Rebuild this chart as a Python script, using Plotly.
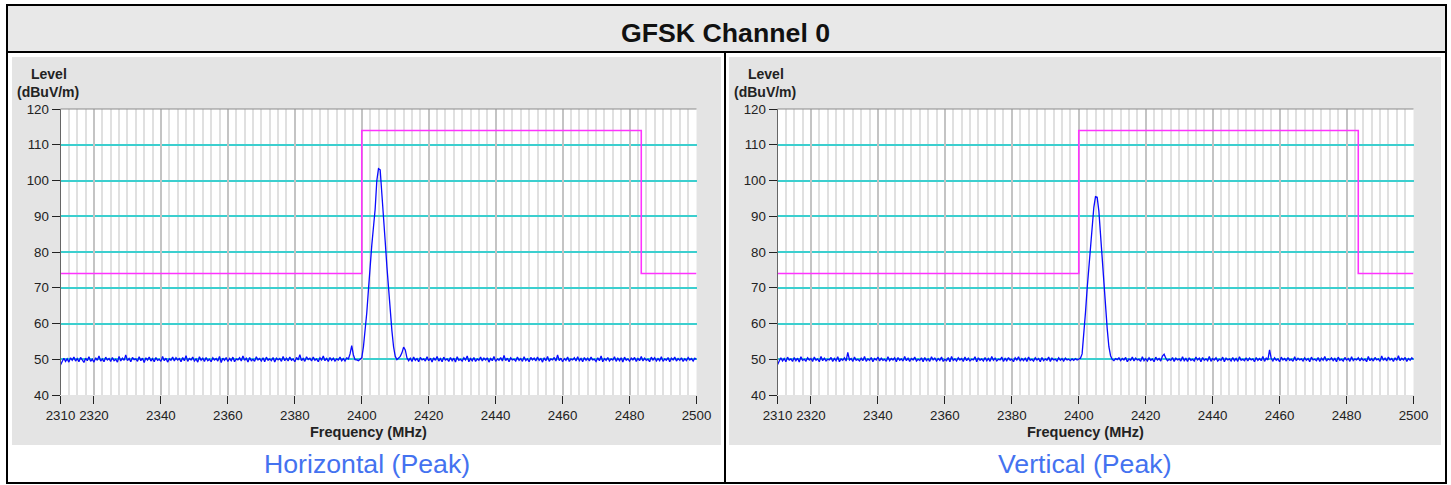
import plotly.graph_objects as go

# ---------------- data ----------------
TITLE = "GFSK Channel 0"
CAPTIONS = ["Horizontal (Peak)", "Vertical (Peak)"]

X_TICKS = [2310, 2320, 2340, 2360, 2380, 2400, 2420, 2440, 2460, 2480, 2500]
Y_TICKS = [40, 50, 60, 70, 80, 90, 100, 110, 120]
Y_GRID = [50, 60, 70, 80, 90, 100, 110]

LIMIT_FREQ = [2310, 2400, 2400, 2483.5, 2483.5, 2500]
LIMIT_LEVEL = [74, 74, 114, 114, 74, 74]

# frequency grid (MHz): 2310.0 .. 2500.0, 0.5 MHz step (381 points)
FREQ = [2310 + 0.5 * i for i in range(381)]

# Horizontal (Peak) levels, dBuV/m  (2310.0 .. 2398.0)
H_LOW = [48.4, 49.6, 50.3, 49.4, 50.1, 49.2, 50.4, 49.7, 50.6, 49.5,
         50.2, 49.3, 50.5, 49.8, 49.1, 50.3, 49.6, 50.7, 49.4, 50.0,
         49.2, 50.4, 49.7, 50.9, 49.5, 50.1, 49.3, 50.6, 49.8, 50.2,
         49.4, 50.5, 49.6, 50.0, 49.2, 50.8, 49.5, 50.3, 49.7, 51.2,
         49.6, 50.2, 49.3, 50.5, 49.9, 50.1, 49.4, 50.7, 49.6, 50.3,
         49.1, 50.4, 49.8, 50.6, 49.5, 50.2, 49.3, 50.5, 49.7, 50.0,
         49.4, 50.8, 49.6, 50.3, 49.2, 50.1, 49.7, 50.6, 49.5, 50.4,
         49.8, 50.2, 49.3, 50.5, 49.6, 51.0, 49.4, 50.2, 49.8, 50.6,
         49.5, 50.1, 49.2, 50.7, 49.7, 50.3, 49.4, 50.5, 49.6, 50.0,
         49.3, 50.4, 49.8, 50.2, 49.5, 50.8, 49.1, 50.3, 49.7, 50.5,
         49.4, 50.2, 49.6, 50.6, 49.3, 50.1, 49.8, 50.4, 49.5, 50.9,
         49.7, 50.3, 49.2, 50.5, 49.6, 50.0, 49.4, 50.7, 49.8, 50.2,
         49.5, 50.4, 49.3, 50.6, 49.7, 50.1, 49.6, 50.5, 49.2, 50.3,
         49.8, 50.2, 49.4, 50.8, 49.6, 50.3, 49.5, 50.6, 49.7, 50.1,
         49.3, 50.5, 49.8, 51.3, 49.6, 50.2, 49.4, 50.7, 49.9, 50.3,
         49.5, 50.6, 49.7, 50.1, 49.3, 50.4, 49.8, 50.9, 49.6, 50.2,
         49.4, 50.5, 49.7, 50.3, 49.5, 50.1, 49.8, 50.6, 49.6, 50.2,
         49.5, 50.4, 50.1, 51.5, 53.8, 51.2, 49.9]
# (2398.5 .. 2411.5)
H_PEAK = [49.8, 49.6, 50.0, 50.4, 53.5, 58.0, 63.0, 69.5, 76.5, 82.0,
          87.0, 92.0, 100.0, 103.3, 103.0, 97.0, 89.7, 83.0, 76.0, 69.7,
          63.0, 58.0, 53.5, 50.8, 49.9, 50.3, 50.8]
# (2412.0 .. 2500.0)
H_HIGH = [51.8, 53.4, 52.6, 50.4, 49.6, 50.3, 49.4, 50.6, 49.7, 50.2,
          49.3, 50.5, 49.8, 50.1, 49.5, 50.7, 49.6, 50.3, 49.2, 50.4,
          49.7, 50.8, 49.5, 50.2, 49.3, 50.6, 49.8, 50.1, 49.4, 50.5,
          49.6, 50.3, 49.2, 50.7, 49.7, 50.0, 49.5, 50.4, 49.8, 50.9,
          49.3, 50.2, 49.6, 50.5, 49.4, 50.1, 49.7, 50.6, 49.5, 50.3,
          49.8, 50.4, 49.2, 50.2, 49.6, 50.8, 49.4, 50.1, 49.7, 50.5,
          49.5, 51.1, 49.6, 50.3, 49.3, 50.4, 49.8, 50.0, 49.5, 50.6,
          49.7, 50.2, 49.4, 50.7, 49.6, 50.1, 49.3, 50.5, 49.8, 50.3,
          49.5, 50.6, 49.7, 50.2, 49.2, 50.4, 49.6, 50.8, 49.4, 50.1,
          49.8, 50.5, 49.5, 51.2, 49.6, 50.3, 49.3, 50.2, 49.7, 50.6,
          49.4, 50.1, 49.8, 50.4, 49.5, 50.7, 49.6, 50.2, 49.3, 50.5,
          49.7, 50.3, 49.5, 50.6, 49.8, 50.0, 49.4, 50.4, 49.6, 50.9,
          49.3, 50.2, 49.7, 50.5, 49.5, 50.1, 49.8, 50.7, 49.4, 50.3,
          49.6, 50.4, 49.2, 50.6, 49.7, 50.1, 49.5, 50.3, 49.8, 50.5,
          49.4, 50.2, 49.6, 50.8, 49.5, 50.3, 49.7, 50.0, 49.3, 50.6,
          49.8, 50.4, 49.5, 50.2, 49.6, 50.7, 49.4, 50.1, 49.7, 50.5,
          49.3, 50.3, 49.8, 50.6, 49.5, 50.2, 49.7, 50.4, 49.4, 50.1,
          49.6, 50.5, 49.8, 50.2, 49.5, 50.3, 49.9]

# Vertical (Peak) levels, dBuV/m  (2310.0 .. 2398.0)
V_LOW = [48.5, 49.7, 50.4, 49.5, 50.2, 49.3, 50.6, 49.8, 50.1, 49.4,
         50.5, 49.6, 50.3, 49.2, 50.7, 49.7, 50.0, 49.5, 50.4, 49.8,
         50.2, 49.4, 50.6, 49.7, 50.1, 49.3, 50.8, 49.6, 50.3, 49.5,
         50.0, 49.8, 50.5, 49.4, 50.2, 49.6, 50.7, 49.3, 50.1, 49.7,
         50.4, 49.5, 51.9, 49.8, 50.2, 49.4, 50.6, 49.7, 50.0, 49.5,
         50.3, 49.6, 50.8, 49.4, 50.1, 49.7, 50.5, 49.3, 50.2, 49.8,
         50.6, 49.5, 50.3, 49.7, 50.0, 49.4, 50.7, 49.6, 50.2, 49.8,
         50.4, 49.3, 50.5, 49.7, 50.1, 49.5, 50.8, 49.6, 50.3, 49.4,
         50.2, 49.8, 50.6, 49.5, 50.0, 49.7, 50.4, 49.3, 50.5, 49.6,
         50.1, 49.4, 50.7, 49.8, 50.3, 49.5, 50.2, 49.7, 50.6, 49.4,
         50.0, 49.6, 50.5, 49.3, 50.8, 49.7, 50.1, 49.5, 50.4, 49.8,
         50.2, 49.4, 50.6, 49.6, 50.3, 49.5, 50.0, 49.8, 50.7, 49.3,
         50.4, 49.7, 50.1, 49.5, 50.5, 49.6, 50.2, 49.4, 50.8, 49.7,
         50.3, 49.5, 50.0, 49.8, 50.6, 49.4, 50.2, 49.6, 50.5, 49.7,
         50.1, 49.3, 50.4, 49.8, 50.7, 49.5, 50.2, 49.6, 50.3, 49.4,
         50.6, 49.7, 50.0, 49.5, 50.4, 49.8, 50.2, 49.3, 50.5, 49.6,
         50.1, 49.7, 50.6, 49.4, 50.3, 49.8, 50.0, 49.5, 50.4, 49.7,
         50.2, 49.5, 50.3, 49.8, 50.0, 49.6, 50.1]
# (2398.5 .. 2411.5)
V_PEAK = [49.7, 50.2, 49.8, 50.1, 50.3, 51.5, 56.5, 63.0, 69.7, 75.5,
          81.5, 87.5, 92.5, 95.5, 95.3, 91.5, 85.0, 77.0, 69.7, 64.0,
          58.5, 53.5, 51.0, 50.0, 49.6, 50.2, 49.9]
# (2412.0 .. 2500.0)
V_HIGH = [50.4, 49.6, 50.2, 49.8, 50.5, 49.3, 50.1, 49.7, 50.6, 49.5,
          50.3, 49.8, 50.0, 49.4, 50.7, 49.6, 50.2, 49.5, 50.4, 49.7,
          50.1, 49.3, 50.6, 49.8, 50.2, 49.5, 50.9, 51.4, 50.3, 49.6,
          50.0, 49.7, 50.5, 49.4, 50.3, 49.8, 50.1, 49.5, 50.7, 49.6,
          50.2, 49.4, 50.4, 49.7, 50.0, 49.5, 50.6, 49.8, 50.3, 49.3,
          50.5, 49.7, 50.1, 49.6, 50.8, 49.4, 50.2, 49.8, 50.4, 49.5,
          50.0, 49.7, 50.6, 49.3, 50.3, 49.8, 50.1, 49.5, 50.5, 49.6,
          50.2, 49.4, 50.7, 49.7, 50.0, 49.6, 50.4, 49.5, 50.3, 49.8,
          50.1, 49.3, 50.5, 49.7, 50.2, 49.6, 50.8, 49.4, 50.3, 49.8,
          52.6, 50.2, 49.5, 50.4, 49.7, 50.1, 49.3, 50.6, 49.8, 50.2,
          49.5, 50.5, 49.7, 50.0, 49.4, 50.7, 49.6, 50.3, 49.8, 50.1,
          49.5, 50.4, 49.7, 50.2, 49.3, 50.6, 49.8, 50.0, 49.6, 50.5,
          49.4, 50.3, 49.7, 50.8, 49.5, 50.1, 49.8, 50.4, 49.6, 50.2,
          49.3, 50.6, 49.7, 50.0, 49.5, 50.5, 49.8, 50.2, 49.4, 50.7,
          49.6, 50.1, 49.8, 50.4, 49.5, 50.3, 49.7, 50.0, 49.3, 50.8,
          49.6, 50.2, 49.5, 50.5, 49.8, 50.1, 49.4, 50.9, 49.7, 50.3,
          49.5, 50.6, 49.8, 50.2, 49.4, 50.4, 49.7, 51.0, 49.6, 50.3,
          49.8, 50.5, 49.4, 50.2, 49.7, 50.4, 49.9]

# ---------------- layout helpers ----------------
W, H = 1451, 485
FONT = "Arial, Liberation Sans, sans-serif"


def px(x):
    return x / W


def py(y):
    return 1 - y / H


SERIES = [H_LOW + H_PEAK + H_HIGH, V_LOW + V_PEAK + V_HIGH]

# plot-area pixel boxes
PLOTS = [(60.5, 696.5), (777.5, 1413.5)]
PLOT_TOP, PLOT_BOTTOM = 109, 395
PANELS = [(12, 721), (729, 1441)]

fig = go.Figure()
shapes = []
annotations = []

# title band + panel backgrounds
shapes.append(dict(type="rect", xref="paper", yref="paper", x0=px(7), x1=px(1446),
                   y0=py(52), y1=py(5), fillcolor="#e8e8e8", line=dict(width=0), layer="below"))
for (a, b) in PANELS:
    shapes.append(dict(type="rect", xref="paper", yref="paper", x0=px(a), x1=px(b),
                       y0=py(445), y1=py(57), fillcolor="#e4e4e4", line=dict(width=0), layer="below"))

for i, ((x0, x1), vals) in enumerate(zip(PLOTS, SERIES)):
    n = "" if i == 0 else str(i + 1)
    xa = "x" + n
    ya = "y" + n
    # white plotting area
    shapes.append(dict(type="rect", xref=xa + " domain", yref=ya + " domain", x0=0, x1=1,
                       y0=0, y1=1, fillcolor="white", line=dict(width=0), layer="below"))
    # top frame line
    shapes.append(dict(type="line", xref=xa + " domain", yref=ya + " domain", x0=0, x1=1,
                       y0=1, y1=1, line=dict(color="#8a8a8a", width=1.2), layer="above"))

    fig.add_trace(go.Scatter(x=LIMIT_FREQ, y=LIMIT_LEVEL, mode="lines",
                             line=dict(color="#ff33ff", width=1.6), xaxis=xa, yaxis=ya,
                             showlegend=False, hoverinfo="skip"))
    fig.add_trace(go.Scatter(x=FREQ, y=vals, mode="lines",
                             line=dict(color="#0a0aff", width=1.3), xaxis=xa, yaxis=ya,
                             showlegend=False))

    xkey = "xaxis" + n
    ykey = "yaxis" + n
    fig.layout[xkey] = dict(
        domain=[px(x0), px(x1)], range=[2310, 2500], anchor=ya, automargin=False,
        tickmode="array", tickvals=X_TICKS, ticktext=[str(t) for t in X_TICKS],
        ticks="outside", ticklen=8, tickwidth=1, tickcolor="#222",
        tickfont=dict(family=FONT, size=13.3, color="#222"),
        showgrid=True, gridcolor="#c4c4c4", gridwidth=1.5,
        minor=dict(tickmode="linear", tick0=2310, dtick=2.5, showgrid=True,
                   gridcolor="#e0e0e0", gridwidth=1.5, ticks=""),
        showline=False, zeroline=False, fixedrange=True,
    )
    fig.layout[ykey] = dict(
        domain=[py(PLOT_BOTTOM), py(PLOT_TOP)], range=[40, 120], anchor=xa, automargin=False,
        tickmode="array", tickvals=Y_TICKS,
        ticks="outside", ticklen=8, tickwidth=1, tickcolor="#222",
        tickfont=dict(family=FONT, size=13.3, color="#222"),
        showgrid=False,
        minor=dict(tickmode="array", tickvals=Y_GRID, showgrid=True,
                   gridcolor="#3ccfcf", gridwidth=1.5, ticks=""),
        showline=True, linecolor="#666", linewidth=1, zeroline=False, fixedrange=True,
    )

    # axis titles
    annotations.append(dict(text="<b>Level</b>", xref="paper", yref="paper",
                            x=px(x0 - 12), y=py(73.5), showarrow=False,
                            font=dict(family=FONT, size=14, color="#222"),
                            xanchor="center", yanchor="middle"))
    annotations.append(dict(text="<b>(dBuV/m)</b>", xref="paper", yref="paper",
                            x=px(x0 - 13), y=py(91.5), showarrow=False,
                            font=dict(family=FONT, size=14, color="#222"),
                            xanchor="center", yanchor="middle"))
    annotations.append(dict(text="<b>Frequency (MHz)</b>", xref="paper", yref="paper",
                            x=px((x0 + x1) / 2 - 10), y=py(431.5), showarrow=False,
                            font=dict(family=FONT, size=14.5, color="#222"),
                            xanchor="center", yanchor="middle"))
    annotations.append(dict(text=CAPTIONS[i], xref="paper", yref="paper",
                            x=px((PANELS[i][0] + PANELS[i][1]) / 2), y=py(464), showarrow=False,
                            font=dict(family=FONT, size=26.7, color="#4472f0"),
                            xanchor="center", yanchor="middle"))

annotations.append(dict(text="<b>" + TITLE + "</b>", xref="paper", yref="paper",
                        x=px(725), y=py(33), showarrow=False,
                        font=dict(family=FONT, size=26.7, color="#111"),
                        xanchor="center", yanchor="middle"))

# frame lines
shapes.append(dict(type="rect", xref="paper", yref="paper", x0=px(7), x1=px(1446),
                   y0=py(483), y1=py(5), line=dict(color="black", width=2), layer="above"))
shapes.append(dict(type="line", xref="paper", yref="paper", x0=px(7), x1=px(1446),
                   y0=py(52), y1=py(52), line=dict(color="black", width=2), layer="above"))
shapes.append(dict(type="line", xref="paper", yref="paper", x0=px(725), x1=px(725),
                   y0=py(483), y1=py(52), line=dict(color="black", width=2), layer="above"))

fig.update_layout(
    width=W, height=H, autosize=False,
    margin=dict(l=0, r=0, t=0, b=0, pad=0, autoexpand=False),
    paper_bgcolor="white", plot_bgcolor="rgba(0,0,0,0)",
    shapes=shapes, annotations=annotations,
    showlegend=False, hovermode=False,
)

fig.write_html("out.html", config={"displayModeBar": False},
               post_script="document.body.style.margin='0';document.body.style.overflow='hidden';")
